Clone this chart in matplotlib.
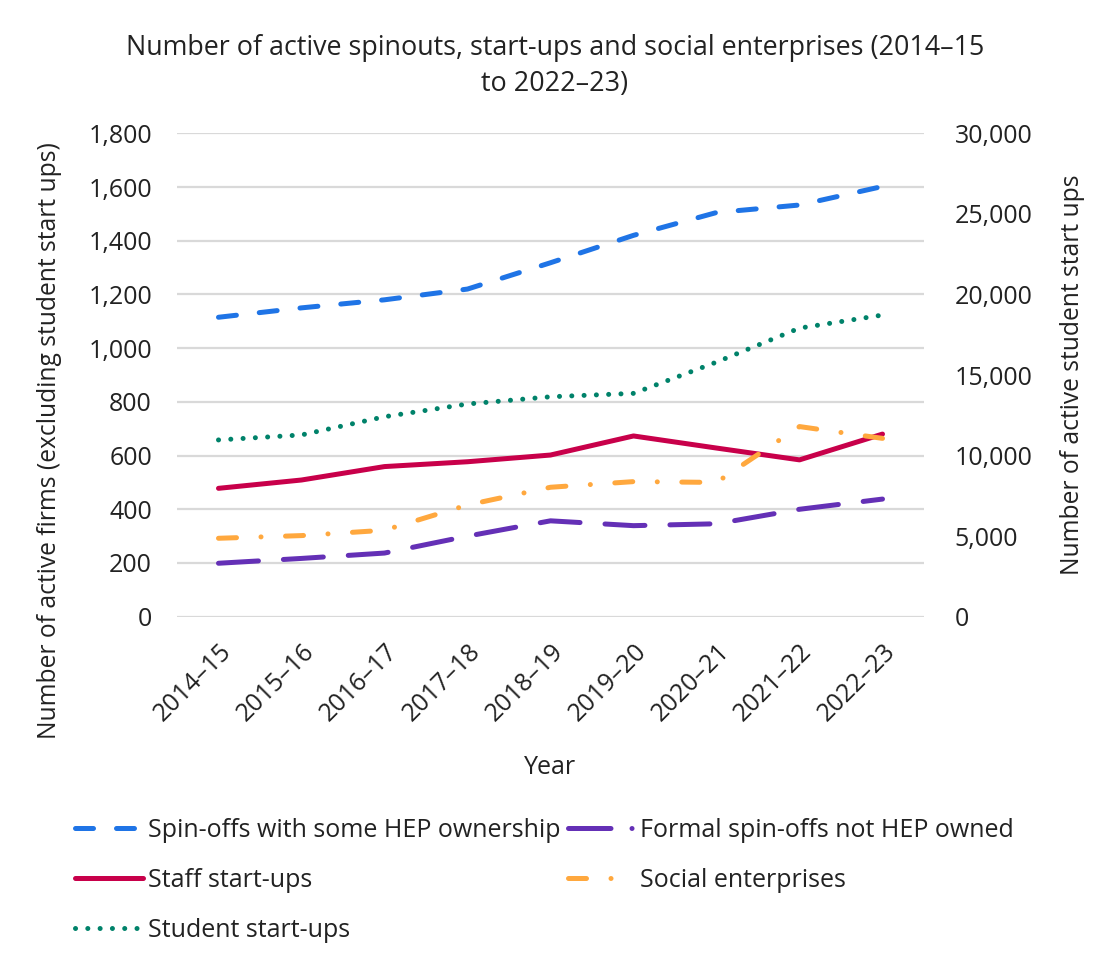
import matplotlib.pyplot as plt
from matplotlib.lines import Line2D
from matplotlib.ticker import FuncFormatter

plt.rcParams['font.family'] = ['Open Sans', 'DejaVu Sans']

# Данные
years = ['2014–15', '2015–16', '2016–17', '2017–18', '2018–19',
         '2019–20', '2020–21', '2021–22', '2022–23']
spin_offs_hep = [1115, 1150, 1180, 1220, 1318, 1420, 1505, 1533, 1602]
formal_not_hep = [199, 217, 237, 300, 357, 339, 346, 400, 438]
staff_startups = [478, 509, 559, 577, 602, 673, 628, 584, 680]
social_ent = [292, 302, 322, 416, 482, 503, 500, 708, 664]
student_startups = [10970, 11280, 12410, 13200, 13650, 13860, 15800, 17910, 18720]

FS = 18
LW = 3.6
TXT = '#222222'
x = range(len(years))

fig = plt.figure(figsize=(10.99, 9.58), dpi=100)
ax = fig.add_axes([177 / 1099, 1 - 616.7 / 958, 747 / 1099, 483.4 / 958])
ax2 = ax.twinx()

l1, = ax.plot(x, spin_offs_hep, color='#1F74E6', lw=LW, dashes=(3.6, 4.6),
              dash_capstyle='round', label='Spin-offs with some HEP ownership')
ax.plot(x, formal_not_hep, color='#6430B6', lw=LW, dashes=(8, 5),
        dash_capstyle='round')
l3, = ax.plot(x, staff_startups, color='#C8004A', lw=LW, solid_capstyle='round',
              label='Staff start-ups')
l4, = ax.plot(x, social_ent, color='#FFA83E', lw=LW, dashes=(3.6, 4.9, 0.01, 4.9),
              dash_capstyle='round', label='Social enterprises')
l5, = ax2.plot(x, student_startups, color='#00826A', lw=LW, dashes=(0.01, 2.45),
               dash_capstyle='round', label='Student start-ups')
# в легенде у фиолетовой линии штрих с точкой
l2 = Line2D([], [], color='#6430B6', lw=LW, dashes=(8.5, 4.2, 0.01, 1),
            dash_capstyle='round', label='Formal spin-offs not HEP owned')

ax.set_xlim(-0.5, len(years) - 0.5)
ax.set_ylim(0, 1800)
ax.set_yticks(range(0, 1801, 200))
ax2.set_ylim(0, 30000)
ax2.set_yticks(range(0, 30001, 5000))

fmt = FuncFormatter(lambda v, p: f'{int(v):,}')
ax.yaxis.set_major_formatter(fmt)
ax2.yaxis.set_major_formatter(fmt)

ax.grid(axis='y', color='#D9D9D9', lw=1.6)
ax.set_axisbelow(True)
for a in (ax, ax2):
    for s in a.spines.values():
        s.set_visible(False)

ax.set_xticks(list(x))
ax.set_xticklabels(years, rotation=45, ha='right', rotation_mode='anchor')
ax.tick_params(axis='x', length=0, pad=16, labelsize=FS, colors=TXT)
ax.tick_params(axis='y', length=0, pad=18, labelsize=FS, colors=TXT)
ax2.tick_params(axis='y', length=0, pad=22, labelsize=FS, colors=TXT)

ax.set_xlabel('Year', fontsize=FS, color=TXT)
ax.xaxis.set_label_coords(0.5, (616.7 - 755) / 483.4)
ax.set_ylabel('Number of active firms (excluding student start ups)', fontsize=FS - 0.3, color=TXT)
ax.yaxis.set_label_coords((62 - 177) / 747, (616.7 - 441) / 483.4)
ax2.set_ylabel('Number of active student start ups', fontsize=FS - 0.3, color=TXT)
ax2.yaxis.set_label_coords((1060 - 177) / 747, 0.5)
ax2.yaxis.label.set_rotation(90)

fig.text(0.505, 1 - 66 / 958, 'Number of active spinouts, start-ups and social enterprises (2014–15\nto 2022–23)',
         ha='center', va='center', fontsize=19.4, color=TXT, linespacing=1.4)

fig.legend(handles=[l1, l3, l5, l2, l4], ncol=2, loc='upper left',
           bbox_to_anchor=(75 / 1099, 1 - 818 / 958), frameon=False, fontsize=FS,
           handlelength=2.7, handletextpad=0.2, columnspacing=0.3,
           labelspacing=1.0, borderpad=0, borderaxespad=0, labelcolor=TXT)

fig.savefig('out.png', dpi=100)
